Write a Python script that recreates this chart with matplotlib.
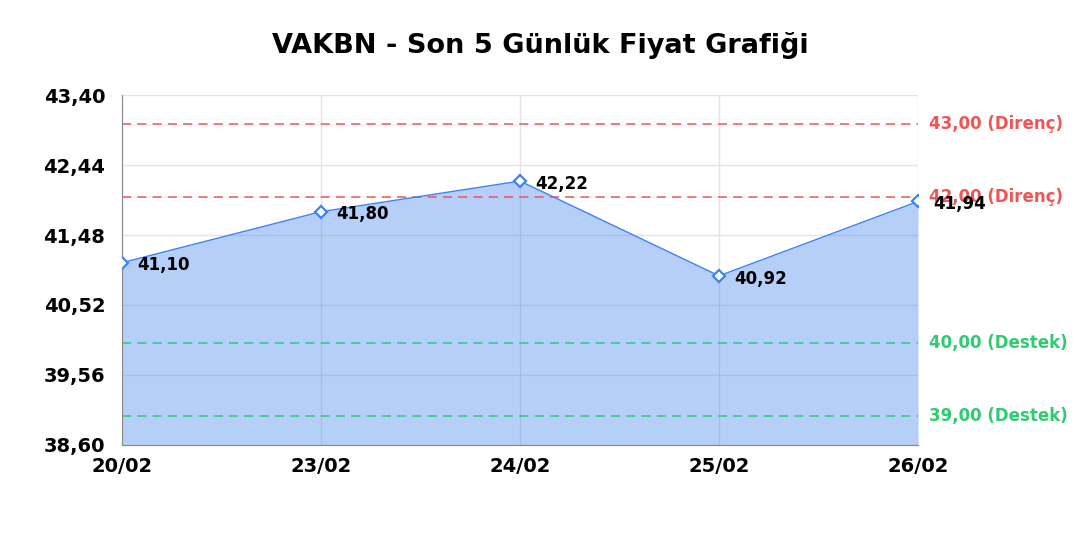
import matplotlib.pyplot as plt

dates = ['20/02', '23/02', '24/02', '25/02', '26/02']
prices = [41.10, 41.80, 42.22, 40.92, 41.94]
resistance = [43.00, 42.00]
support = [40.00, 39.00]
yticks = [38.60, 39.56, 40.52, 41.48, 42.44, 43.40]


def tr(v):
    return f'{v:.2f}'.replace('.', ',')


fig = plt.figure(figsize=(10.8, 5.4), dpi=100)
ax = fig.add_axes([0.113, 0.176, 0.737, 0.648])

x = list(range(len(dates)))
ax.fill_between(x, prices, yticks[0], color='#3b7ff0', alpha=0.37, lw=0, zorder=1)
ax.plot(x, prices, color='#3b82f6', lw=1.0, zorder=3)
ax.plot(x, prices, ls='none', marker='D', ms=6, mfc='white', mec='#3b82f6', mew=1.6, zorder=4)

for xi, p in zip(x, prices):
    ax.annotate(tr(p), (xi, p), xytext=(11, -2), textcoords='offset points',
                fontsize=12, fontweight='bold', va='center', ha='left', zorder=5)

for r in resistance:
    ax.axhline(r, color='#f05454', ls=(0, (6, 4)), lw=1.1, zorder=2)
    ax.annotate(f'{tr(r)} (Direnç)', (1, r), xycoords=('axes fraction', 'data'),
                xytext=(8, 0), textcoords='offset points', color='#f05454',
                fontsize=12, fontweight='bold', va='center', ha='left')
for s in support:
    ax.axhline(s, color='#2ecc71', ls=(0, (6, 4)), lw=1.1, zorder=2)
    ax.annotate(f'{tr(s)} (Destek)', (1, s), xycoords=('axes fraction', 'data'),
                xytext=(8, 0), textcoords='offset points', color='#2ecc71',
                fontsize=12, fontweight='bold', va='center', ha='left')

ax.set_xlim(0, len(dates) - 1)
ax.set_ylim(yticks[0], yticks[-1])
ax.set_xticks(x, dates)
ax.set_yticks(yticks, [tr(v) for v in yticks])
ax.tick_params(axis='y', length=0, labelsize=14, pad=12)
ax.tick_params(axis='x', length=0, labelsize=14, pad=9)
for lab in ax.get_xticklabels() + ax.get_yticklabels():
    lab.set_fontweight('bold')
ax.grid(True, color='#e3e3e3', lw=1, zorder=0)
ax.set_axisbelow(True)
for side in ['top', 'right']:
    ax.spines[side].set_visible(False)
for side in ['left', 'bottom']:
    ax.spines[side].set_color('#888888')

fig.suptitle('VAKBN - Son 5 Günlük Fiyat Grafiği', y=0.94, fontsize=19.5, fontweight='bold')
fig.savefig('out.png', dpi=100)
